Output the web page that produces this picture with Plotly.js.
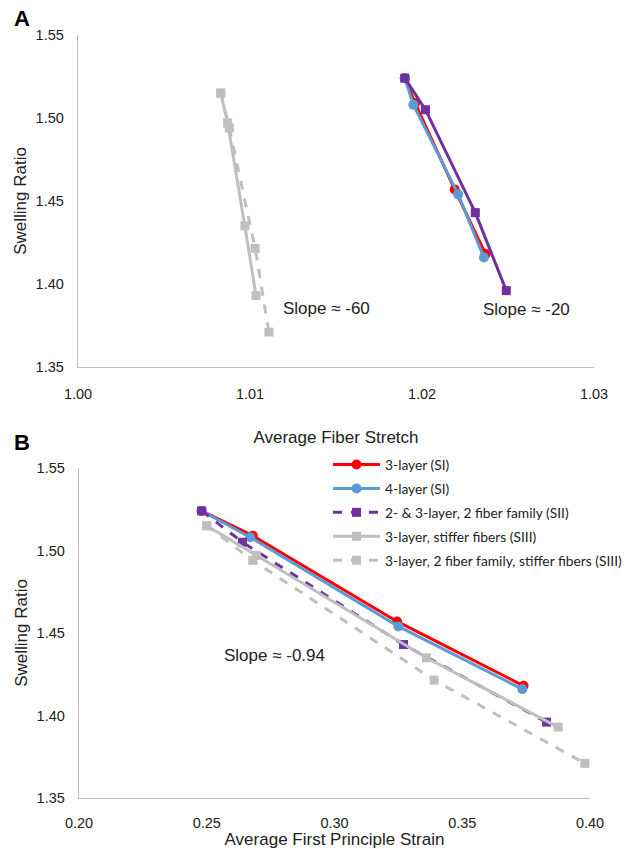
<!DOCTYPE html>
<html>
<head>
<meta charset="utf-8">
<script src="https://cdn.plot.ly/plotly-3.0.1.min.js"></script>
<style>html,body{margin:0;padding:0;background:#fff;}#chart{width:637px;height:849px;}</style>
</head>
<body>
<div id="chart"></div>
<script>
// ---- Data ----
var seriesNames = ["3-layer (SI)", "4-layer (SI)", "2- & 3-layer, 2 fiber family (SII)", "3-layer, stiffer fibers (SIII)", "3-layer, 2 fiber family, stiffer fibers (SIII)"];

// Swelling ratio (shared by both panels)
var swell_SI3 = [1.524, 1.509, 1.457, 1.418];
var swell_SI4 = [1.524, 1.508, 1.454, 1.416];
var swell_SII = [1.524, 1.505, 1.443, 1.396];
var swell_SIII = [1.515, 1.497, 1.435, 1.393];
var swell_SIII2 = [1.515, 1.494, 1.4215, 1.371];

// Panel A: average fiber stretch
var stretch_SI3 = [1.0190, 1.0196, 1.0219, 1.0237];
var stretch_SI4 = [1.0190, 1.0195, 1.0221, 1.0236];
var stretch_SII = [1.0190, 1.0202, 1.0231, 1.0249];
var stretch_SIII = [1.0083, 1.0087, 1.0097, 1.01035];
var stretch_SIII2 = [1.0083, 1.0088, 1.0103, 1.0111];

// Panel B: average first principle strain
var strain_SI3 = [0.248, 0.268, 0.3245, 0.374];
var strain_SI4 = [0.248, 0.267, 0.325, 0.3735];
var strain_SII = [0.248, 0.264, 0.327, 0.383];
var strain_SIII = [0.250, 0.2695, 0.336, 0.3875];
var strain_SIII2 = [0.250, 0.268, 0.339, 0.398];

var xTicksA = [1.00, 1.01, 1.02, 1.03];
var xTicksB = [0.20, 0.25, 0.30, 0.35, 0.40];
var yTicks = [1.35, 1.40, 1.45, 1.50, 1.55];

// ---- Styles ----
var RED = "#ff0000", BLUE = "#5b9bd5", PURPLE = "#7030a0", GRAY = "#bfbfbf";
var styles = [
  {color: RED, symbol: "circle", size: 10, dashA: "solid", dashB: "solid"},
  {color: BLUE, symbol: "circle", size: 10, dashA: "solid", dashB: "solid"},
  {color: PURPLE, symbol: "square", size: 9, dashA: "solid", dashB: "dash"},
  {color: GRAY, symbol: "square", size: 9, dashA: "solid", dashB: "solid"},
  {color: GRAY, symbol: "square", size: 9, dashA: "dash", dashB: "dash"}
];
var xA = [stretch_SI3, stretch_SI4, stretch_SII, stretch_SIII, stretch_SIII2];
var xB = [strain_SI3, strain_SI4, strain_SII, strain_SIII, strain_SIII2];
var ys = [swell_SI3, swell_SI4, swell_SII, swell_SIII, swell_SIII2];

var traces = [];
for (var i = 0; i < 5; i++) {
  var s = styles[i];
  traces.push({
    x: xA[i], y: ys[i], xaxis: "x", yaxis: "y", type: "scatter", mode: "lines+markers",
    name: seriesNames[i], showlegend: false, legendgroup: "g" + i,
    line: {color: s.color, width: 3, dash: s.dashA},
    marker: {color: s.color, symbol: s.symbol, size: s.size}
  });
}
for (var j = 0; j < 5; j++) {
  var t = styles[j];
  traces.push({
    x: xB[j], y: ys[j], xaxis: "x2", yaxis: "y2", type: "scatter", mode: "lines+markers",
    name: seriesNames[j], showlegend: true, legendgroup: "g" + j,
    line: {color: t.color, width: 3, dash: t.dashB},
    marker: {color: t.color, symbol: t.symbol, size: t.size}
  });
}

var FONT = "Liberation Sans, Arial, sans-serif";
function axisBase() {
  return {
    showgrid: false, zeroline: false, showline: true, linecolor: "#bfbfbf", linewidth: 1.3,
    ticks: "", tickfont: {family: FONT, size: 14.5, color: "#222"}, fixedrange: true
  };
}
var W = 637, H = 849;
var xa = axisBase();
Object.assign(xa, {domain: [78 / W, 594 / W], range: [1.00, 1.03], tickvals: xTicksA, ticktext: xTicksA.map(function (v) { return v.toFixed(2); }),
  ticklabelstandoff: 13,
  anchor: "y", title: {text: "Average Fiber Stretch", font: {family: FONT, size: 17, color: "#222"}, standoff: 30}});
var ya = axisBase();
Object.assign(ya, {domain: [1 - 367 / H, 1 - 35 / H], range: [1.35, 1.55], tickvals: yTicks, ticktext: yTicks.map(function (v) { return v.toFixed(2); }),
  ticklabelstandoff: 10,
  anchor: "x", title: {text: "Swelling Ratio", font: {family: FONT, size: 17, color: "#222"}, standoff: 4}});
var xb = axisBase();
Object.assign(xb, {domain: [79 / W, 590 / W], range: [0.20, 0.40], tickvals: xTicksB, ticktext: xTicksB.map(function (v) { return v.toFixed(2); }),
  ticklabelstandoff: 11,
  anchor: "y2", title: {text: "Average First Principle Strain", font: {family: FONT, size: 17, color: "#222"}, standoff: 4}});
var yb = axisBase();
Object.assign(yb, {domain: [1 - 798 / H, 1 - 468 / H], range: [1.35, 1.55], tickvals: yTicks, ticktext: yTicks.map(function (v) { return v.toFixed(2); }),
  ticklabelstandoff: 10,
  anchor: "x2", title: {text: "Swelling Ratio", font: {family: FONT, size: 17, color: "#222"}, standoff: 4}});

var layout = {
  width: W, height: H,
  margin: {l: 0, r: 0, t: 0, b: 0},
  paper_bgcolor: "#fff", plot_bgcolor: "#fff",
  xaxis: xa, yaxis: ya, xaxis2: xb, yaxis2: yb,
  showlegend: true,
  legend: {x: 328 / W, y: 1 - 449 / H, xanchor: "left", yanchor: "top", bgcolor: "rgba(0,0,0,0)",
    font: {family: "Lato, Carlito, Calibri, sans-serif", size: 13.8, color: "#222"}, itemwidth: 47, tracegroupgap: 3},
  annotations: [
    {text: "<b>A</b>", xref: "paper", yref: "paper", x: 12 / W, y: 1 - 18 / H, xanchor: "left", yanchor: "middle", showarrow: false, font: {family: FONT, size: 22, color: "#000"}},
    {text: "<b>B</b>", xref: "paper", yref: "paper", x: 12 / W, y: 1 - 442 / H, xanchor: "left", yanchor: "middle", showarrow: false, font: {family: FONT, size: 22, color: "#000"}},
    {text: "Slope \u2248 -60", xref: "paper", yref: "paper", x: 281 / W, y: 1 - 308 / H, xanchor: "left", yanchor: "middle", showarrow: false, font: {family: FONT, size: 17, color: "#222"}},
    {text: "Slope \u2248 -20", xref: "paper", yref: "paper", x: 481 / W, y: 1 - 310 / H, xanchor: "left", yanchor: "middle", showarrow: false, font: {family: FONT, size: 17, color: "#222"}},
    {text: "Slope \u2248 -0.94", xref: "paper", yref: "paper", x: 222 / W, y: 1 - 655 / H, xanchor: "left", yanchor: "middle", showarrow: false, font: {family: FONT, size: 17, color: "#222"}}
  ]
};

Plotly.newPlot("chart", traces, layout, {displayModeBar: false, staticPlot: true});
</script>
</body>
</html>
